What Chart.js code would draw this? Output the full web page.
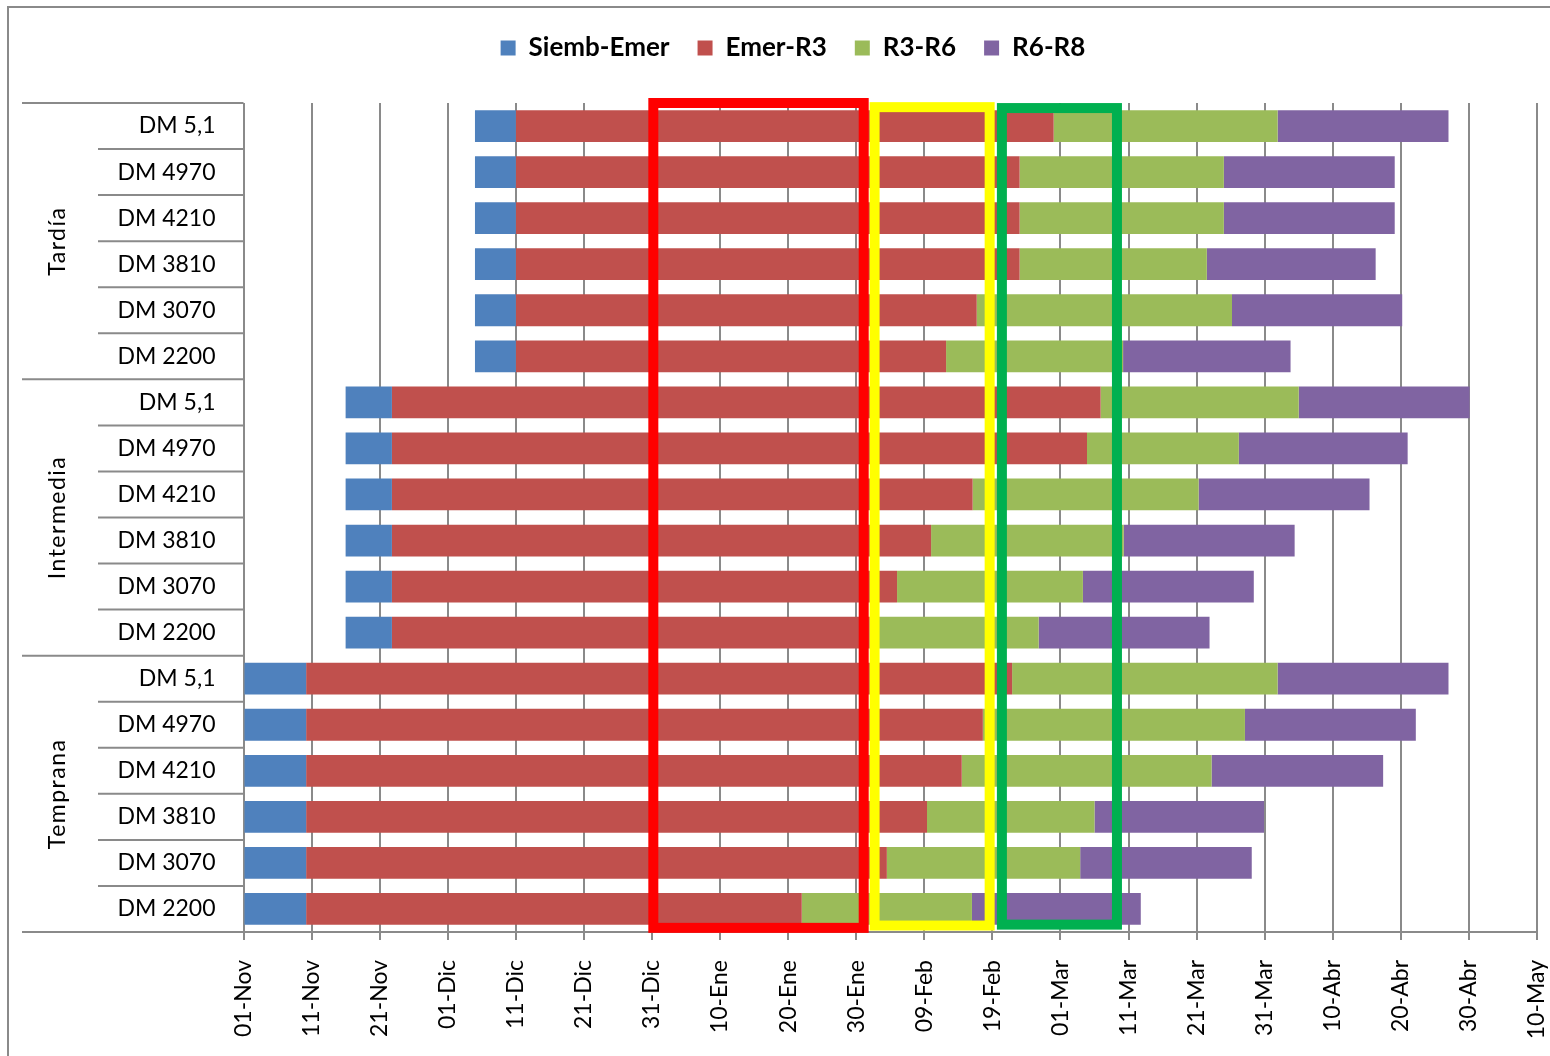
<!DOCTYPE html>
<html>
<head>
<meta charset="utf-8">
<script src="https://cdn.jsdelivr.net/npm/chart.js@4.4.0/dist/chart.umd.min.js"></script>
<style>
  html, body { margin: 0; padding: 0; background: #fff; }
</style>
</head>
<body>
<canvas id="grafico" width="1550" height="1056"></canvas>
<script>
// fechas del eje: dias desde el 01-Nov, cada 10 dias
const etiquetasFecha = ['01-Nov', '11-Nov', '21-Nov', '01-Dic', '11-Dic', '21-Dic', '31-Dic',
    '10-Ene', '20-Ene', '30-Ene', '09-Feb', '19-Feb', '01-Mar', '11-Mar', '21-Mar', '31-Mar',
    '10-Abr', '20-Abr', '30-Abr', '10-May'];

const epocas = ['Tardía', 'Intermedia', 'Temprana'];

const cultivares = ['DM 5,1', 'DM 4970', 'DM 4210', 'DM 3810', 'DM 3070', 'DM 2200',
    'DM 5,1', 'DM 4970', 'DM 4210', 'DM 3810', 'DM 3070', 'DM 2200',
    'DM 5,1', 'DM 4970', 'DM 4210', 'DM 3810', 'DM 3070', 'DM 2200'];

// dia (desde 01-Nov) en que empieza cada fase
const siembra = [34, 34, 34, 34, 34, 34, 15, 15, 15, 15, 15, 15, 0, 0, 0, 0, 0, 0];
const emergencia = [40, 40, 40, 40, 40, 40, 21.8, 21.8, 21.8, 21.8, 21.8, 21.8, 9.2, 9.2, 9.2, 9.2, 9.2, 9.2];
const r3 = [119, 114, 114, 114, 107.7, 103.2, 125.9, 123.9, 107.1, 101, 96, 92, 112.9, 108.6, 105.5, 100.4, 94.5, 82];
const r6 = [151.9, 144, 144, 141.5, 145.2, 129.2, 155, 146.2, 140.3, 129.3, 123.3, 116.8, 151.9, 147.1, 142.2, 125, 122.9, 107];
const r8 = [177, 169.1, 169.1, 166.3, 170.2, 153.8, 180.1, 171, 165.4, 154.4, 148.4, 141.9, 177, 172.2, 167.4, 149.9, 148.1, 131.8];

const fases = ['Siemb-Emer', 'Emer-R3', 'R3-R6', 'R6-R8'];
const colores = ['#4F81BD', '#C0504D', '#9BBB59', '#8064A2'];

// recuadros marcados sobre el grafico (dias y filas)
const recuadros = [
    { color: '#FF0000', desde: 60.2, hasta: 91.1, arriba: -0.5, abajo: 17.41 },
    { color: '#FFFF00', desde: 92.7, hasta: 109.6, arriba: -0.41, abajo: 17.36 },
    { color: '#00B050', desde: 111.4, hasta: 128.3, arriba: -0.39, abajo: 17.34 }
];

function tramos(desde, hasta) {
    return desde.map((d, i) => [d, hasta[i]]);
}

const limites = [siembra, emergencia, r3, r6, r8];
const gris = '#8a8a8a';

Chart.defaults.font.family = 'Lato';
Chart.defaults.color = '#000';

const ejeAgrupado = {
    id: 'ejeAgrupado',
    beforeInit(chart) {
        const fitOriginal = chart.legend.fit;
        chart.legend.fit = function () {
            fitOriginal.call(this);
            this.height = 96;
        };
    },
    beforeDraw(chart) {
        const ctx = chart.ctx;
        ctx.save();
        ctx.strokeStyle = gris;
        ctx.lineWidth = 2;
        ctx.strokeRect(8, 7, chart.width + 20, chart.height + 20);
        ctx.restore();
    },
    afterDatasetsDraw(chart) {
        const ctx = chart.ctx;
        const x = chart.scales.x, y = chart.scales.y;
        ctx.save();
        ctx.lineWidth = 10;
        recuadros.forEach(r => {
            const x0 = x.getPixelForValue(r.desde), x1 = x.getPixelForValue(r.hasta);
            const y0 = y.getPixelForValue(r.arriba), y1 = y.getPixelForValue(r.abajo);
            ctx.strokeStyle = r.color;
            ctx.strokeRect(x0, y0, x1 - x0, y1 - y0);
        });
        ctx.restore();
    },
    afterDraw(chart) {
        const ctx = chart.ctx;
        const y = chart.scales.y;
        const borde = chart.chartArea.left;
        ctx.save();
        ctx.strokeStyle = gris;
        ctx.lineWidth = 2;
        for (let k = 0; k <= cultivares.length; k++) {
            const py = y.getPixelForValue(k - 0.5);
            ctx.beginPath();
            ctx.moveTo(k % 6 === 0 ? 22 : 98, py);
            ctx.lineTo(borde, py);
            ctx.stroke();
        }
        ctx.fillStyle = '#000';
        ctx.font = '23px Lato';
        ctx.letterSpacing = '1.5px';
        ctx.textAlign = 'center';
        ctx.textBaseline = 'middle';
        epocas.forEach((e, g) => {
            const yc = (y.getPixelForValue(g * 6) + y.getPixelForValue(g * 6 + 5)) / 2;
            ctx.save();
            ctx.translate(58, yc);
            ctx.rotate(-Math.PI / 2);
            ctx.fillText(e, 0, 0);
            ctx.restore();
        });
        ctx.restore();
    }
};

let canvas = document.getElementById('grafico');

let diagrama = new Chart(canvas, {
    type: 'bar',
    data: {
        labels: cultivares,
        datasets: fases.map((f, i) => ({
            label: f,
            data: tramos(limites[i], limites[i + 1]),
            backgroundColor: colores[i],
            borderWidth: 0,
            grouped: false,
            barPercentage: 0.69,
            categoryPercentage: 1
        }))
    },
    options: {
        indexAxis: 'y',
        responsive: false,
        animation: false,
        layout: { padding: { left: 36, top: 7, right: 0, bottom: 0 } },
        plugins: {
            legend: {
                position: 'top',
                labels: {
                    boxWidth: 15,
                    boxHeight: 15,
                    padding: 28,
                    font: { size: 26, weight: 'bold' },
                    color: '#000'
                }
            },
            tooltip: { enabled: false }
        },
        scales: {
            x: {
                type: 'linear',
                min: 0,
                max: 190,
                grid: { color: gris, lineWidth: 2, tickLength: 8 },
                border: { color: gris, width: 2 },
                ticks: {
                    stepSize: 10,
                    autoSkip: false,
                    minRotation: 90,
                    maxRotation: 90,
                    padding: 20,
                    font: { size: 23 },
                    color: '#000',
                    callback: v => etiquetasFecha[Math.round(v / 10)]
                },
                afterFit(s) {
                    s.height = 124;
                    s.paddingLeft = 0;
                    s.paddingRight = 13;
                }
            },
            y: {
                grid: { display: false, drawTicks: false },
                border: { display: false },
                ticks: { padding: 28, font: { size: 23 }, color: '#000' },
                afterFit(s) {
                    s.width = 243.5 - 36;
                    s.paddingTop = 0;
                    s.paddingBottom = 0;
                }
            }
        }
    },
    plugins: [ejeAgrupado]
});
</script>
</body>
</html>
